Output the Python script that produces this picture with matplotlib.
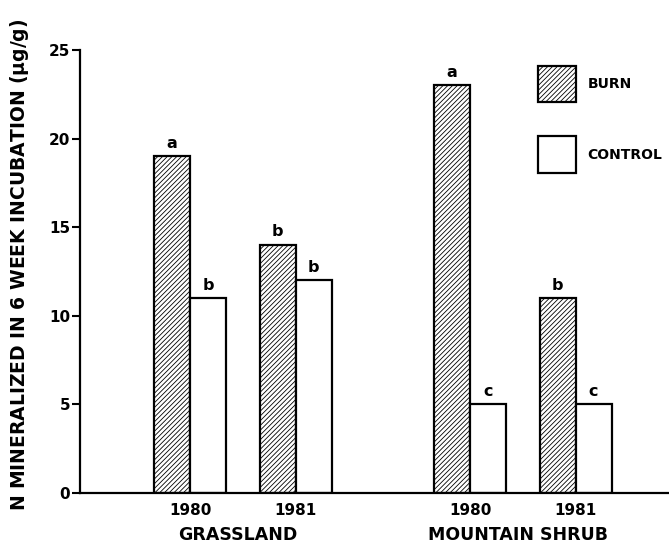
import numpy as np
import matplotlib
matplotlib.use("Agg")
import matplotlib.pyplot as plt
from matplotlib.patches import Patch

# data
sites = ["GRASSLAND", "MOUNTAIN SHRUB"]
years = ["1980", "1981", "1980", "1981"]
burn = [19, 14, 23, 11]
control = [11, 12, 5, 5]
burn_letters = ["a", "b", "a", "b"]
control_letters = ["b", "b", "c", "c"]

plt.rcParams["font.family"] = ["DejaVu Sans"]
plt.rcParams["font.weight"] = "bold"
plt.rcParams["hatch.linewidth"] = 0.6

fig = plt.figure(figsize=(6.69, 5.44), dpi=100)
ax = fig.add_axes([80 / 669, 51 / 544, 1 - 80 / 669, 443 / 544])

# group centres: two years per site, wider gap between sites
centres = np.array([0, 1, 2.652, 3.652])
w = 0.34

b1 = ax.bar(centres - w / 2, burn, w, facecolor="white", edgecolor="black",
            hatch="///////", linewidth=1.6, label="BURN")
b2 = ax.bar(centres + w / 2, control, w, facecolor="white", edgecolor="black",
            linewidth=1.6, label="CONTROL")

for bars, letters in ((b1, burn_letters), (b2, control_letters)):
    for r, lt in zip(bars, letters):
        ax.annotate(lt, (r.get_x() + r.get_width() / 2, r.get_height()),
                    xytext=(0, 4), textcoords="offset points",
                    ha="center", va="bottom", fontsize=11.5, fontweight="bold")

ax.set_xlim(-1.042, 4.536)
ax.set_ylim(0, 25)
ax.set_yticks([0, 5, 10, 15, 20, 25])
ax.set_xticks(centres)
ax.set_xticklabels(years, fontsize=11, fontweight="bold")
ax.tick_params(axis="x", length=0, pad=7)
ax.tick_params(axis="y", length=6, width=1.5, labelsize=11, pad=1)
for lab in ax.get_yticklabels():
    lab.set_fontweight("bold")

ax.spines["top"].set_visible(False)
ax.spines["right"].set_visible(False)
ax.spines["left"].set_linewidth(1.6)
ax.spines["bottom"].set_linewidth(1.6)

for i, s in enumerate(sites):
    xc = centres[2 * i:2 * i + 2].mean()
    ax.text(xc - 0.05, -0.106, s, transform=ax.get_xaxis_transform(),
            ha="center", va="baseline", fontsize=12.5, fontweight="bold")

ax.set_ylabel("N MINERALIZED IN 6 WEEK INCUBATION ($\\mathbf{\\mu}$g/g)",
              fontsize=13.5, fontweight="bold")
ax.yaxis.set_label_coords(-0.083, 0.515)

handles = [Patch(facecolor="white", edgecolor="black", hatch="///////", linewidth=1.6),
           Patch(facecolor="white", edgecolor="black", linewidth=1.6)]
ax.legend(handles, ["BURN", "CONTROL"], loc="upper left",
          bbox_to_anchor=(0.757, 0.993), frameon=False, fontsize=10,
          handlelength=2.7, handleheight=3.7, labelspacing=2.45,
          handletextpad=0.85)

fig.savefig("out.png", dpi=100)
